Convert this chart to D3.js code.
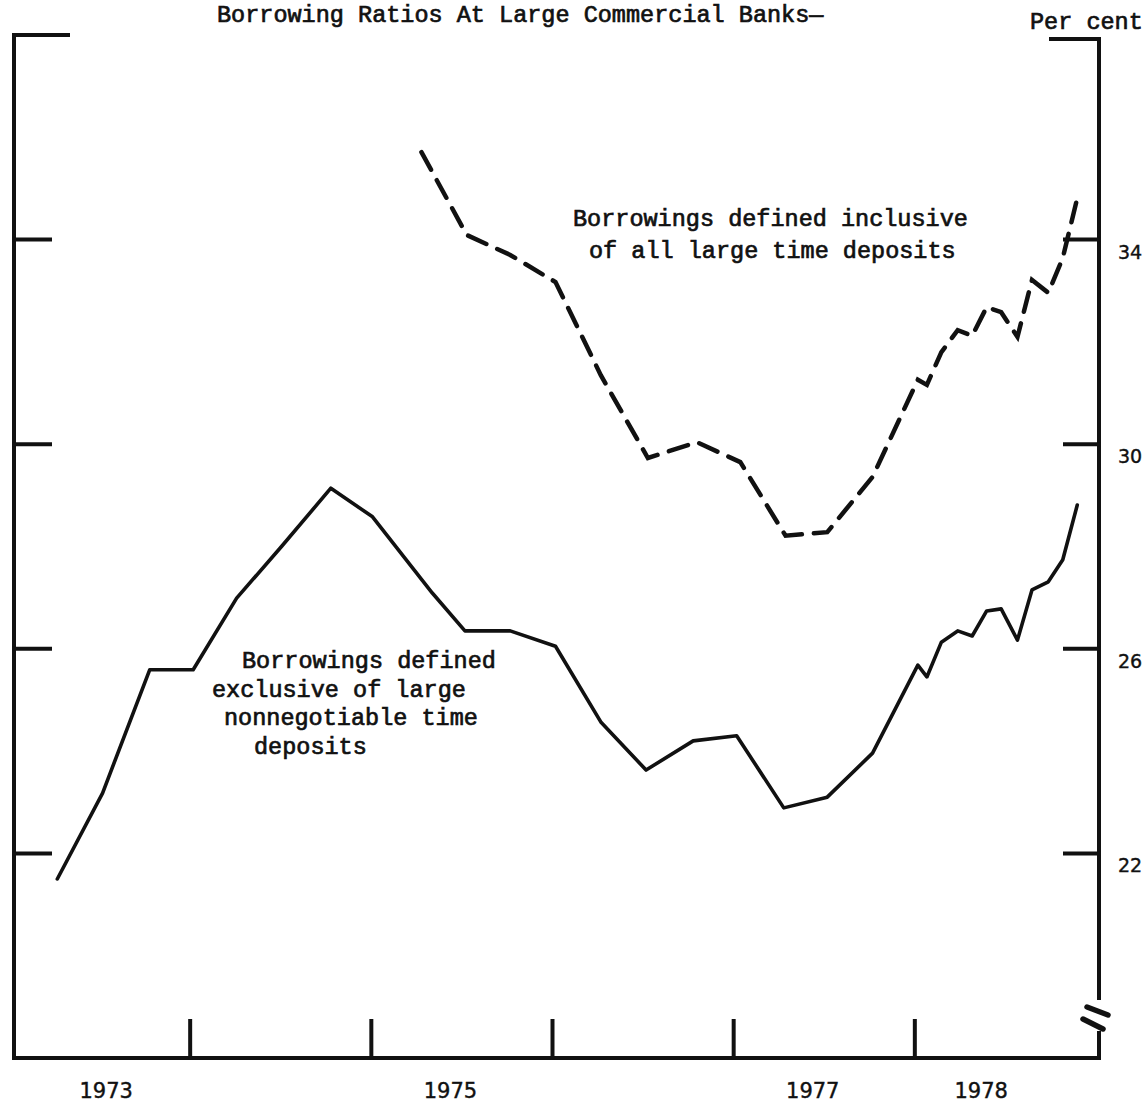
<!DOCTYPE html>
<html>
<head>
<meta charset="utf-8">
<script src="https://cdn.jsdelivr.net/npm/d3@7"></script>
<style>
  body { margin: 0; background: #fff; }
  svg { display: block; }
  .type { font-family: "Liberation Mono", "Courier New", monospace; font-size: 23.5px; fill: #111; stroke: #111; stroke-width: 0.7px; }
  .num { font-family: "DejaVu Sans", Verdana, sans-serif; fill: #111; stroke: #111; stroke-width: 0.4px; }
</style>
</head>
<body>
<div id="chart"></div>
<script>
// data (per cent)
var solidYears  = [1973.25, 1973.5, 1973.76, 1974.0, 1974.24, 1974.49, 1974.76, 1974.99, 1975.32, 1975.5,
                   1975.75, 1976.0, 1976.25, 1976.5, 1976.76, 1977.0, 1977.26, 1977.5, 1977.75, 1978.0,
                   1978.05, 1978.13, 1978.22, 1978.3, 1978.38, 1978.46, 1978.55, 1978.63, 1978.72, 1978.8, 1978.88];
var solidValues = [21.5, 23.18, 25.59, 25.59, 26.99, 28.01, 29.14, 28.58, 27.09, 26.35,
                   26.35, 26.05, 24.57, 23.63, 24.2, 24.3, 22.89, 23.1, 23.96, 25.68,
                   25.45, 26.13, 26.35, 26.25, 26.74, 26.78, 26.17, 27.15, 27.31, 27.74, 28.81];

var dashYears  = [1975.26, 1975.51, 1975.75, 1976.0, 1976.25, 1976.51, 1976.78, 1977.02, 1977.27, 1977.5,
                  1977.75, 1978.0, 1978.05, 1978.13, 1978.22, 1978.3, 1978.38, 1978.46, 1978.55, 1978.63,
                  1978.72, 1978.8, 1978.88];
var dashValues = [35.71, 34.09, 33.7, 33.17, 31.35, 29.73, 30.04, 29.65, 28.21, 28.28,
                  29.36, 31.26, 31.16, 31.8, 32.23, 32.12, 32.68, 32.58, 32.1, 33.21,
                  32.96, 33.64, 34.81];

var yTicks      = [22, 26, 30, 34];
var yTop        = 38;
var yBottom     = 18;
var xTicks      = [1974, 1975, 1976, 1977, 1978];
var yearLabels  = ["1973", "1975", "1977", "1978"];
var yearLabelAt = [1973.52, 1975.42, 1977.42, 1978.35];

var titleText = "Borrowing Ratios At Large Commercial Banks\u2014";
var unitText  = "Per cent";
var dashNote  = ["Borrowings defined inclusive", "of all large time deposits"];
var solidNote = ["Borrowings defined", "exclusive of large", "nonnegotiable time", "deposits"];

var width = 1147, height = 1102;

var svg = d3.select("#chart")
  .append("svg")
  .attr("width", width)
  .attr("height", height);

// scales
var x = d3.scaleLinear()
  .domain([1973, 1979])
  .range([12, 1099]);

var y = d3.scaleLinear()
  .domain([yBottom, yTop])
  .range([1058, 35]);

var left = 14, right = 1099;
var axisW = 4;

var frame = svg.append("g")
  .attr("stroke", "#111")
  .attr("stroke-width", axisW)
  .attr("stroke-linecap", "square")
  .attr("fill", "none");

// left axis with ticks
frame.append("line").attr("x1", left).attr("x2", left).attr("y1", y(yTop)).attr("y2", y(yBottom));
frame.append("line").attr("x1", left).attr("x2", left + 54).attr("y1", y(yTop)).attr("y2", y(yTop));
frame.selectAll(".lt").data(yTicks).enter().append("line")
  .attr("x1", left).attr("x2", left + 36)
  .attr("y1", d => y(d)).attr("y2", d => y(d));

// right axis, broken near the bottom
var breakTop = 998, breakBot = 1033;
frame.append("line").attr("x1", right).attr("x2", right).attr("y1", y(yTop) + 4).attr("y2", breakTop);
frame.append("line").attr("x1", right).attr("x2", right).attr("y1", breakBot).attr("y2", y(yBottom));
frame.append("line").attr("x1", right - 48).attr("x2", right).attr("y1", y(yTop) + 4).attr("y2", y(yTop) + 4);
frame.selectAll(".rt").data(yTicks).enter().append("line")
  .attr("x1", right - 34).attr("x2", right)
  .attr("y1", d => y(d)).attr("y2", d => y(d));
frame.append("line").attr("x1", right - 12).attr("x2", right + 9).attr("y1", 1007).attr("y2", 1015)
  .attr("stroke-width", 5.5).attr("stroke-linecap", "round");
frame.append("line").attr("x1", right - 16).attr("x2", right + 4).attr("y1", 1019).attr("y2", 1029)
  .attr("stroke-width", 5.5).attr("stroke-linecap", "round");

// bottom axis, ticks pointing up
frame.append("line").attr("x1", left).attr("x2", right).attr("y1", y(yBottom)).attr("y2", y(yBottom));
frame.selectAll(".bt").data(xTicks).enter().append("line")
  .attr("x1", d => x(d) - 3).attr("x2", d => x(d) - 3)
  .attr("y1", y(yBottom)).attr("y2", y(yBottom) - 37);

// tick labels
svg.selectAll(".ylab").data(yTicks).enter().append("text")
  .attr("class", "num")
  .attr("x", right + 19)
  .attr("y", d => y(d) + 19)
  .style("font-size", "19px")
  .text(d => d);

svg.selectAll(".xlab").data(yearLabels).enter().append("text")
  .attr("class", "num")
  .attr("x", (d, i) => x(yearLabelAt[i]))
  .attr("y", 1098)
  .attr("text-anchor", "middle")
  .style("font-size", "21px")
  .text(d => d);

// lines
var solidData = solidYears.map((d, i) => ({ t: d, v: solidValues[i] }));
var dashData  = dashYears.map((d, i) => ({ t: d, v: dashValues[i] }));

var line = d3.line()
  .x(d => x(d.t))
  .y(d => y(d.v));

svg.append("path")
  .datum(solidData)
  .attr("d", line)
  .attr("fill", "none")
  .attr("stroke", "#111")
  .attr("stroke-width", 3.6)
  .attr("stroke-linejoin", "round")
  .attr("stroke-linecap", "round");

svg.append("path")
  .datum(dashData)
  .attr("d", line)
  .attr("fill", "none")
  .attr("stroke", "#111")
  .attr("stroke-width", 4.5)
  .attr("stroke-dasharray", "20,12")
  .attr("stroke-linecap", "round");

// texts
svg.append("text").attr("class", "type").attr("x", 217).attr("y", 22).text(titleText);
svg.append("text").attr("class", "type").attr("x", 1030).attr("y", 29).text(unitText);

var dashX = [573, 589];
svg.selectAll(".dn").data(dashNote).enter().append("text")
  .attr("class", "type")
  .attr("x", (d, i) => dashX[i])
  .attr("y", (d, i) => 226 + i * 32)
  .text(d => d);

var solidX = [242, 212, 224, 254];
svg.selectAll(".sn").data(solidNote).enter().append("text")
  .attr("class", "type")
  .attr("x", (d, i) => solidX[i])
  .attr("y", (d, i) => 668 + i * 28.5)
  .text(d => d);
</script>
</body>
</html>
